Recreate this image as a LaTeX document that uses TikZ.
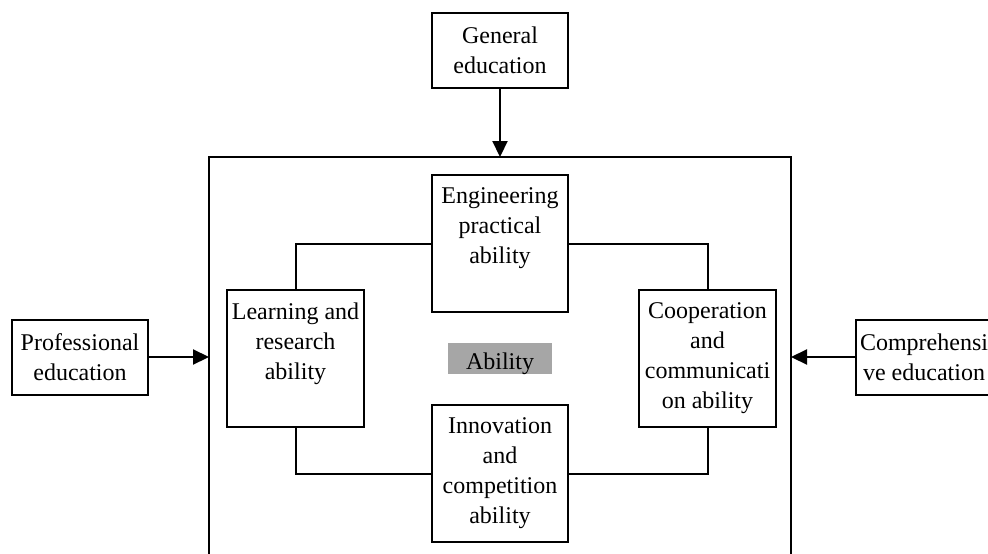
\documentclass[tikz,border=0pt]{standalone}
\usepackage{fontspec}
\setmainfont{Liberation Serif}
\usetikzlibrary{arrows.meta}
\newcommand{\tbox}[3]{\parbox[c][#1][t]{#2}{\centering\vspace*{13pt}#3\par}}
\begin{document}
\begin{tikzpicture}[x=1pt,y=-1pt,
  every node/.style={font=\fontsize{24}{30}\selectfont},
  ebox/.style={draw, line width=2pt, inner sep=0pt, align=center},
  cbox/.style={draw, line width=2pt, minimum width=136pt, minimum height=75pt, align=center, inner sep=0pt},
  conn/.style={line width=2pt},
  arr/.style={line width=2.2pt, -{Triangle[length=16pt,width=15pt]}}]
\definecolor{abgray}{HTML}{A6A6A6}
\clip (0,0) rectangle (988,554);
\fill[white] (0,0) rectangle (988,554);
% outer frame
\draw[conn] (209,600) -- (209,157) -- (791,157) -- (791,600);
\coordinate (bt) at (500,157);
\coordinate (bl) at (209,357);
\coordinate (br) at (791,357);
% outer inputs
\node[cbox] (gen) at (500,50.5) {General\\education};
\node[cbox] (prof) at (80,357) {Professional\\education};
\node[cbox] (comp) at (924,357) {Comprehensi\\ve education};
% inner boxes
\node[ebox] (eng) at (500,243.5) {\tbox{137pt}{136pt}{Engineering\\practical\\ability}};
\node[ebox] (learn) at (295.5,358.5) {\tbox{137pt}{137pt}{Learning and\\research\\ability}};
\node[ebox] (coop) at (707.5,358.5) {\tbox{137pt}{137pt}{Cooperation\\and\\communicati\\on ability}};
\node[ebox] (innov) at (500,473.5) {\tbox{137pt}{136pt}{Innovation\\and\\competition\\ability}};
\node[fill=abgray, minimum width=104pt, minimum height=31pt, inner sep=0pt, text height=21pt, text depth=0pt] (ab) at (500,358.5) {Ability};
% connectors
\draw[conn] (eng.west) -| (learn.north);
\draw[conn] (eng.east) -| (coop.north);
\draw[conn] (learn.south) |- (innov.west);
\draw[conn] (coop.south) |- (innov.east);
% arrows
\draw[arr] (gen.south) -- (bt);
\draw[arr] (prof.east) -- (bl);
\draw[arr] (comp.west) -- (br);
\end{tikzpicture}
\end{document}
